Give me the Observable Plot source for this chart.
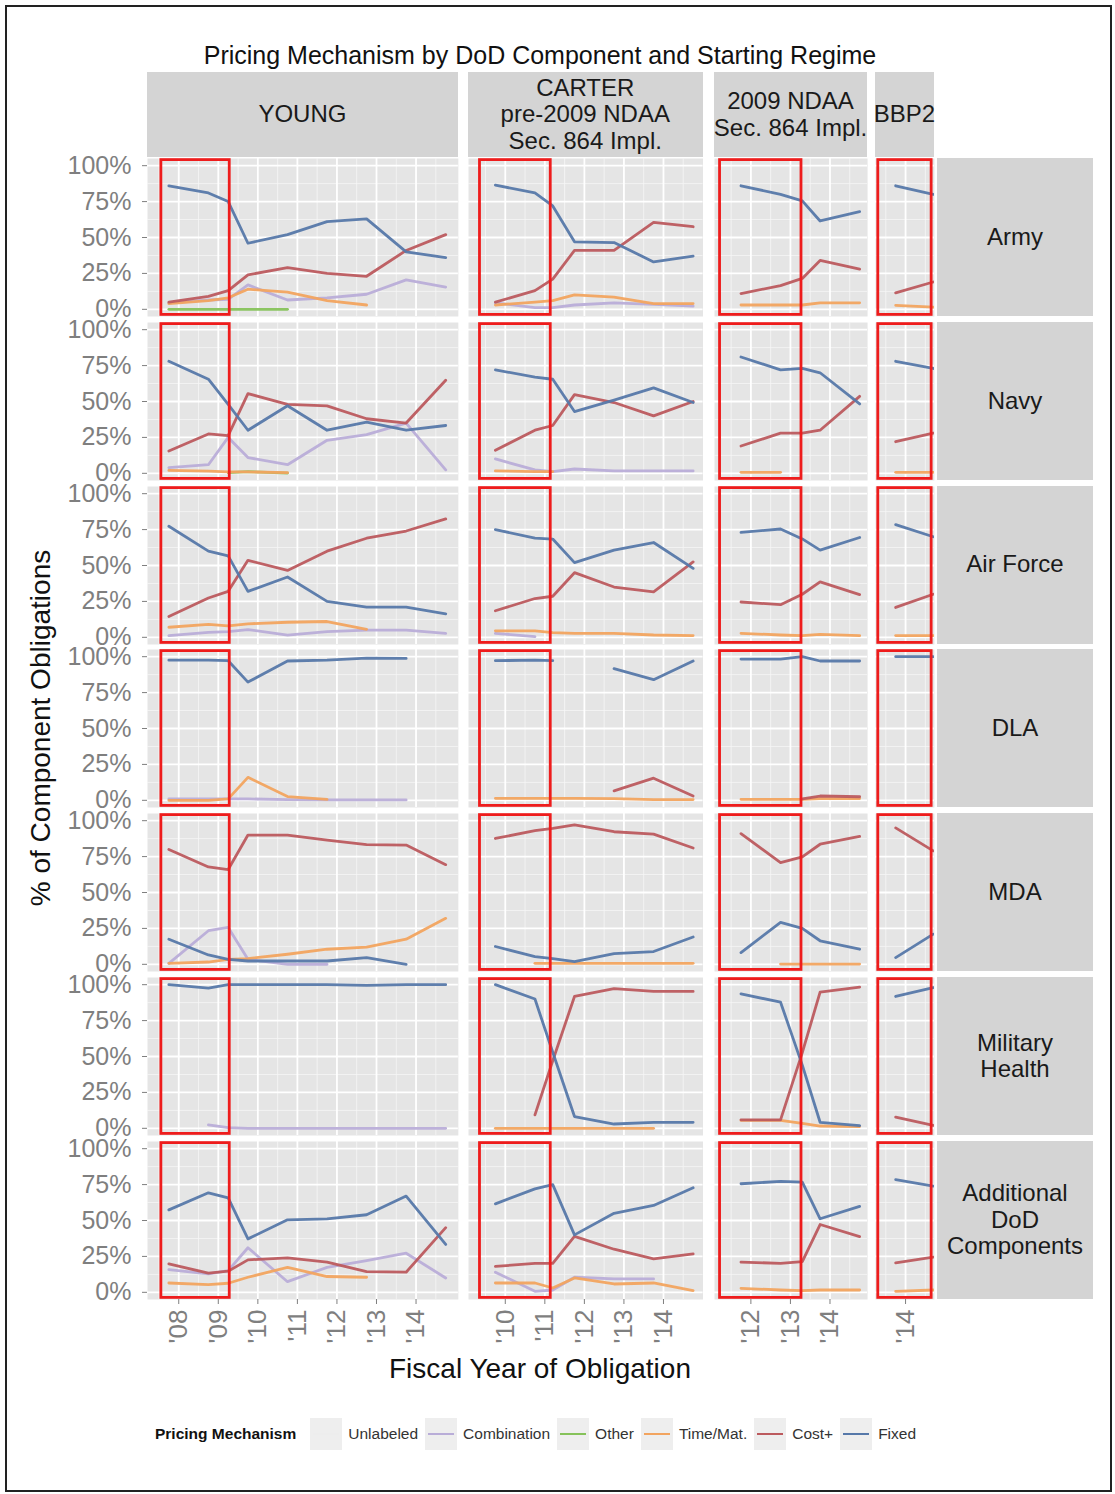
<!DOCTYPE html>
<html>
<head>
<meta charset="utf-8">
<script src="https://cdn.jsdelivr.net/npm/d3@7"></script>
<script src="https://cdn.jsdelivr.net/npm/@observablehq/plot@0.6"></script>
<style>
  body { margin: 0; background: #fff; font-family: "Liberation Sans", Arial, sans-serif; }
  #fig { position: relative; width: 1115px; height: 1494px; overflow: hidden; background: #fff; }
  .abs { position: absolute; }
  .strip { position: absolute; background: #D4D4D4; display: flex; align-items: center; justify-content: center;
           text-align: center; font-size: 24px; line-height: 26.5px; color: #1a1a1a; white-space: pre; }
  #border { position: absolute; left: 5px; top: 5px; width: 1103px; height: 1483px; border: 2px solid #222; }
  #title { position: absolute; left: 140px; width: 800px; top: 41px; text-align: center; font-size: 25px; color: #111; }
  #ytitle { position: absolute; left: 41px; top: 728px; transform: translate(-50%, -50%) rotate(-90deg); font-size: 28px; white-space: nowrap; color: #111; }
  #xtitle { position: absolute; left: 140px; width: 800px; top: 1353px; text-align: center; font-size: 28px; color: #111; }
  #legend { position: absolute; left: 155px; top: 1418px; height: 32px; display: flex; align-items: center; font-size: 15.5px; color: #333; }
  .key { width: 32px; height: 32px; background: #EEEEEE; position: relative; margin-right: 6px; }
  .key span { position: absolute; left: 3px; right: 3px; top: 15px; height: 2px; }
  .lab { margin-right: 7px; }
</style>
</head>
<body>
<div id="fig">
  <div id="border"></div>
  <div id="title">Pricing Mechanism by DoD Component and Starting Regime</div>
  <div id="ytitle">% of Component Obligations</div>
  <div id="xtitle">Fiscal Year of Obligation</div>
  <div id="legend"></div>
</div>
<script>
const _ = null;

// ---- categories ----
const regimes = ["YOUNG", "CARTER", "NDAA 2009", "BBP2"];
const regimeLabels = ["YOUNG", "CARTER\npre-2009 NDAA\nSec. 864 Impl.", "2009 NDAA\nSec. 864 Impl.", "BBP2"];
const components = ["Army", "Navy", "Air Force", "DLA", "MDA", "Military\nHealth", "Additional\nDoD\nComponents"];
const mechanisms = ["Unlabeled", "Combination", "Other", "Time/Mat.", "Cost+", "Fixed"];
const palette = ["#EDEDED", "#B9ADD8", "#86C25A", "#F2A45F", "#BC5A5E", "#5678A9"];

// ---- x values (fiscal year) per regime ----
const yearsYoung  = [2007.75, 2008.75, 2009.25, 2009.75, 2010.75, 2011.75, 2012.75, 2013.75, 2014.75];
const yearsCarter = [2009.75, 2010.75, 2011.2, 2011.75, 2012.75, 2013.75, 2014.75];
const yearsNdaa   = [2011.75, 2012.75, 2013.3, 2013.75, 2014.75];
const yearsBbp2   = [2013.75, 2014.7];
const regimeYears = [yearsYoung, yearsCarter, yearsNdaa, yearsBbp2];

// tick labels per regime
const regimeTicks = [[2008, 2009, 2010, 2011, 2012, 2013, 2014], [2010, 2011, 2012, 2013, 2014], [2012, 2013, 2014], [2014]];
const regimeDomains = [[2007.21, 2015.07], [2009.07, 2015.0], [2011.08, 2014.95], [2013.24, 2014.73]];
// highlighted first years of each regime (red boxes)
const highlightStart = [2007.52, 2009.32, 2011.18, 2013.27];
const highlightEnd   = [2009.33, 2011.19, 2013.32, 2014.70];

// ---- series values: [YOUNG, CARTER, NDAA 2009, BBP2] ----
const armyFixed = [[0.86,0.81,0.75,0.46,0.52,0.61,0.63,0.40,0.36],[0.865,0.81,0.72,0.47,0.465,0.33,0.37],[0.86,0.80,0.755,0.615,0.68],[0.86,0.80]];
const armyCost  = [[0.05,0.09,0.13,0.24,0.29,0.25,0.23,0.41,0.52],[0.05,0.13,0.21,0.41,0.41,0.605,0.575],[0.11,0.165,0.215,0.34,0.28],[0.115,0.19]];
const armyTM    = [[0.04,0.06,0.08,0.14,0.12,0.06,0.03,_,_],[0.03,0.05,0.06,0.10,0.085,0.04,0.04],[0.03,0.03,0.03,0.045,0.045],[0.028,0.015]];
const armyComb  = [[0.045,0.065,0.07,0.17,0.065,0.08,0.105,0.205,0.155],[0.045,0.012,0.012,0.03,0.045,0.035,0.022],[],[]];
const armyOther = [[0,0,0,0,0,_,_,_,_],[],[],[]];

const navyFixed = [[0.78,0.655,0.48,0.30,0.47,0.30,0.357,0.30,0.333],[0.72,0.67,0.655,0.43,0.51,0.595,0.493],[0.81,0.72,0.73,0.70,0.483],[0.78,0.73]];
const navyCost  = [[0.155,0.274,0.262,0.555,0.48,0.47,0.38,0.35,0.648],[0.16,0.30,0.333,0.548,0.493,0.40,0.50],[0.19,0.28,0.28,0.30,0.536],[0.22,0.28]];
const navyTM    = [[0.02,0.015,0.01,0.01,0.005,_,_,_,_],[0.017,0.012,0.012,_,_,_,_],[0.007,0.007,_,_,_],[0.007,0.007]];
const navyComb  = [[0.04,0.06,0.25,0.11,0.06,0.23,0.27,0.35,0.024],[0.10,0.024,0.012,0.03,0.017,0.017,0.017],[],[]];
const navyOther = [[_,_,0.005,0.012,0.002,_,_,_,_],[],[],[]];

const afFixed = [[0.773,0.60,0.567,0.32,0.42,0.25,0.21,0.21,0.164],[0.75,0.69,0.684,0.52,0.607,0.66,0.48],[0.73,0.754,0.685,0.607,0.695],[0.785,0.70]];
const afCost  = [[0.145,0.274,0.32,0.536,0.466,0.60,0.69,0.74,0.824],[0.185,0.27,0.286,0.45,0.35,0.316,0.525],[0.246,0.227,0.30,0.386,0.297],[0.208,0.30]];
const afTM    = [[0.07,0.09,0.08,0.094,0.105,0.11,0.056,_,_],[0.045,0.045,0.033,0.028,0.028,0.016,0.012],[0.028,0.016,0.012,0.02,0.012],[0.012,0.012]];
const afComb  = [[0.012,0.035,0.04,0.054,0.016,0.04,0.05,0.05,0.028],[0.028,0.005,_,_,_,_,_],[],[]];

const dlaFixed = [[0.976,0.976,0.972,0.823,0.97,0.976,0.99,0.988,_],[0.972,0.976,0.972,_,0.917,0.84,0.97],[0.983,0.983,1.0,0.97,0.97],[1.0,1.0]];
const dlaCost  = [[],[_,_,_,_,0.066,0.154,0.03],[_,_,0.01,0.03,0.025],[]];
const dlaTM    = [[0,0,0.01,0.16,0.026,0.007,_,_,_],[0.014,0.014,0.014,0.014,0.012,0.005,0.005],[0.007,0.007,0.007,0.012,0.012],[]];
const dlaComb  = [[0.01,0.01,0.01,0.01,0.005,0.003,0.003,0.003,_],[],[],[]];

const mdaFixed = [[0.175,0.065,0.035,0.023,0.023,0.023,0.047,0.0,_],[0.124,0.054,0.04,0.019,0.075,0.089,0.19],[0.082,0.292,0.25,0.164,0.105],[0.047,0.21]];
const mdaCost  = [[0.80,0.678,0.66,0.90,0.90,0.864,0.834,0.83,0.694],[0.876,0.93,0.946,0.97,0.923,0.906,0.81],[0.91,0.708,0.748,0.836,0.89],[0.95,0.79]];
const mdaTM    = [[0.007,0.016,0.035,0.04,0.07,0.105,0.12,0.175,0.32],[_,0.007,0.007,0.007,0.007,0.007,0.007],[_,0.002,0.002,0.002,0.002],[]];
const mdaComb  = [[0.007,0.234,0.257,0.035,0,0,_,_,_],[],[],[]];

const mhFixed = [[1.0,0.976,1.0,1.0,1.0,1.0,0.995,1.0,1.0],[1.0,0.90,0.53,0.082,0.03,0.042,0.042],[0.936,0.878,0.44,0.042,0.019],[0.918,0.98]];
const mhCost  = [[],[_,0.094,0.47,0.918,0.972,0.953,0.953],[0.059,0.059,0.527,0.948,0.983],[0.078,0.02]];
const mhTM    = [[],[0,0,0,0,0,0,_],[0.055,0.055,0.035,0.016,0.012],[]];
const mhComb  = [[_,0.024,0.005,0,0,0,0,0,0],[],[],[]];

const addFixed = [[0.574,0.693,0.658,0.372,0.505,0.512,0.54,0.67,0.333],[0.616,0.72,0.75,0.40,0.55,0.605,0.728],[0.756,0.772,0.767,0.512,0.598],[0.784,0.74]];
const addCost  = [[0.198,0.133,0.147,0.226,0.24,0.21,0.144,0.14,0.45],[0.18,0.202,0.202,0.39,0.30,0.233,0.267],[0.21,0.202,0.214,0.472,0.388],[0.205,0.245]];
const addTM    = [[0.065,0.053,0.063,0.105,0.174,0.11,0.105,_,_],[0.065,0.065,0.03,0.10,0.058,0.065,0.012],[0.028,0.016,0.012,0.016,0.016],[0.007,0.016]];
const addComb  = [[0.158,0.128,0.151,0.31,0.074,0.174,0.22,0.272,0.10],[0.14,0.007,0.016,0.105,0.093,0.093,_],[],[]];

// component -> mechanism series, in drawing order
const seriesList = [
  [components[0], "Combination", armyComb], [components[0], "Other", armyOther], [components[0], "Time/Mat.", armyTM], [components[0], "Cost+", armyCost], [components[0], "Fixed", armyFixed],
  [components[1], "Combination", navyComb], [components[1], "Other", navyOther], [components[1], "Time/Mat.", navyTM], [components[1], "Cost+", navyCost], [components[1], "Fixed", navyFixed],
  [components[2], "Combination", afComb], [components[2], "Time/Mat.", afTM], [components[2], "Cost+", afCost], [components[2], "Fixed", afFixed],
  [components[3], "Combination", dlaComb], [components[3], "Time/Mat.", dlaTM], [components[3], "Cost+", dlaCost], [components[3], "Fixed", dlaFixed],
  [components[4], "Combination", mdaComb], [components[4], "Time/Mat.", mdaTM], [components[4], "Cost+", mdaCost], [components[4], "Fixed", mdaFixed],
  [components[5], "Combination", mhComb], [components[5], "Time/Mat.", mhTM], [components[5], "Cost+", mhCost], [components[5], "Fixed", mhFixed],
  [components[6], "Combination", addComb], [components[6], "Time/Mat.", addTM], [components[6], "Cost+", addCost], [components[6], "Fixed", addFixed]
];

// ---- long table ----
const rows = [];
for (const [component, mechanism, perRegime] of seriesList) {
  perRegime.forEach((vals, ri) => {
    vals.forEach((v, i) => rows.push({component, regime: regimes[ri], mechanism, year: regimeYears[ri][i], value: v}));
  });
}

// ---- layout ----
const fig = document.getElementById("fig");
const rowTop0 = 158, rowStep = 163.8, panelH = 158;
const colLeft = [147, 468, 714, 875];
const pxPerYear = 39.55;
const padV = 18;
const yDomain = [-0.05, 1.05];
const yMajor = [0, 0.25, 0.5, 0.75, 1];
const yMinor = [0.125, 0.375, 0.625, 0.875];
const font = "'Liberation Sans', Arial, sans-serif";

regimes.forEach((reg, c) => {
  const dom = regimeDomains[c];
  const w = (dom[1] - dom[0]) * pxPerYear;
  const s = document.createElement("div");
  s.className = "strip";
  s.style.left = colLeft[c] + "px"; s.style.top = "72px";
  s.style.width = w + "px"; s.style.height = "85px";
  s.textContent = regimeLabels[c];
  fig.appendChild(s);
});

components.forEach((comp, r) => {
  const top = rowTop0 + r * rowStep;
  const s = document.createElement("div");
  s.className = "strip";
  s.style.left = "937px"; s.style.top = top + "px";
  s.style.width = "156px"; s.style.height = panelH + "px";
  s.textContent = comp;
  fig.appendChild(s);

  regimes.forEach((reg, c) => {
    const dom = regimeDomains[c];
    const w = (dom[1] - dom[0]) * pxPerYear;
    const first = c === 0;
    const last = r === components.length - 1;
    const mL = first ? 140 : 0;
    const mB = last ? 70 : padV;
    const data = rows.filter(d => d.component === comp && d.regime === reg);
    const ticks = regimeTicks[c];
    const minorX = ticks.map(t => t - 0.5).concat([ticks[ticks.length - 1] + 0.5]).filter(v => v > dom[0] && v < dom[1]);
    const marks = [
      Plot.frame({fill: "#E5E5E5", stroke: "none"}),
      Plot.ruleY(yMinor, {stroke: "#F6F6F6", strokeWidth: 0.8}),
      Plot.ruleX(minorX, {stroke: "#F6F6F6", strokeWidth: 0.8}),
      Plot.ruleY(yMajor, {stroke: "#FFFFFF", strokeWidth: 1.8}),
      Plot.ruleX(ticks, {stroke: "#FFFFFF", strokeWidth: 1.8}),
      Plot.line(data, {x: "year", y: "value", z: "mechanism", stroke: "mechanism", strokeWidth: 2.8, strokeOpacity: 0.95, clip: true}),
      Plot.rect([{x1: highlightStart[c], x2: highlightEnd[c], y1: yDomain[0], y2: yDomain[1]}],
        {x1: "x1", x2: "x2", y1: "y1", y2: "y2", fill: "none", stroke: "#EE1C1C", strokeWidth: 2.8, inset: 1.6})
    ];
    if (first) marks.push(Plot.axisY({ticks: yMajor, tickFormat: d => Math.round(d * 100) + "%", fontSize: 25,
      tickSize: 5, tickPadding: 11, color: "#7F7F7F", label: null}));
    if (last) marks.push(Plot.axisX({ticks, tickFormat: d => "'" + String(d).slice(2), tickRotate: -90, fontSize: 26,
      tickSize: 5, tickPadding: 5, color: "#7F7F7F", label: null}));
    const opts = {
      width: Math.round(w + mL), height: panelH + padV + mB,
      marginLeft: mL, marginRight: Math.round(w + mL) - (w + mL), marginTop: padV, marginBottom: mB,
      x: {domain: dom},
      y: {domain: yDomain},
      color: {domain: mechanisms, range: palette},
      style: {background: "transparent", fontFamily: font, overflow: "visible"},
      marks
    };
    if (!last) opts.x.axis = null;
    if (!first) opts.y.axis = null;
    const svg = Plot.plot(opts);
    const holder = document.createElement("div");
    holder.className = "abs";
    holder.style.left = (colLeft[c] - mL) + "px";
    holder.style.top = (top - padV) + "px";
    holder.appendChild(svg);
    fig.appendChild(holder);
  });
});

// ---- legend ----
const legend = document.getElementById("legend");
const lt = document.createElement("b");
lt.textContent = "Pricing Mechanism";
lt.style.marginRight = "14px"; lt.style.color = "#111";
legend.appendChild(lt);
mechanisms.forEach((m, i) => {
  const k = document.createElement("div"); k.className = "key";
  const ln = document.createElement("span"); ln.style.background = palette[i];
  k.appendChild(ln); legend.appendChild(k);
  const l = document.createElement("div"); l.className = "lab"; l.textContent = m;
  legend.appendChild(l);
});
</script>
</body>
</html>
